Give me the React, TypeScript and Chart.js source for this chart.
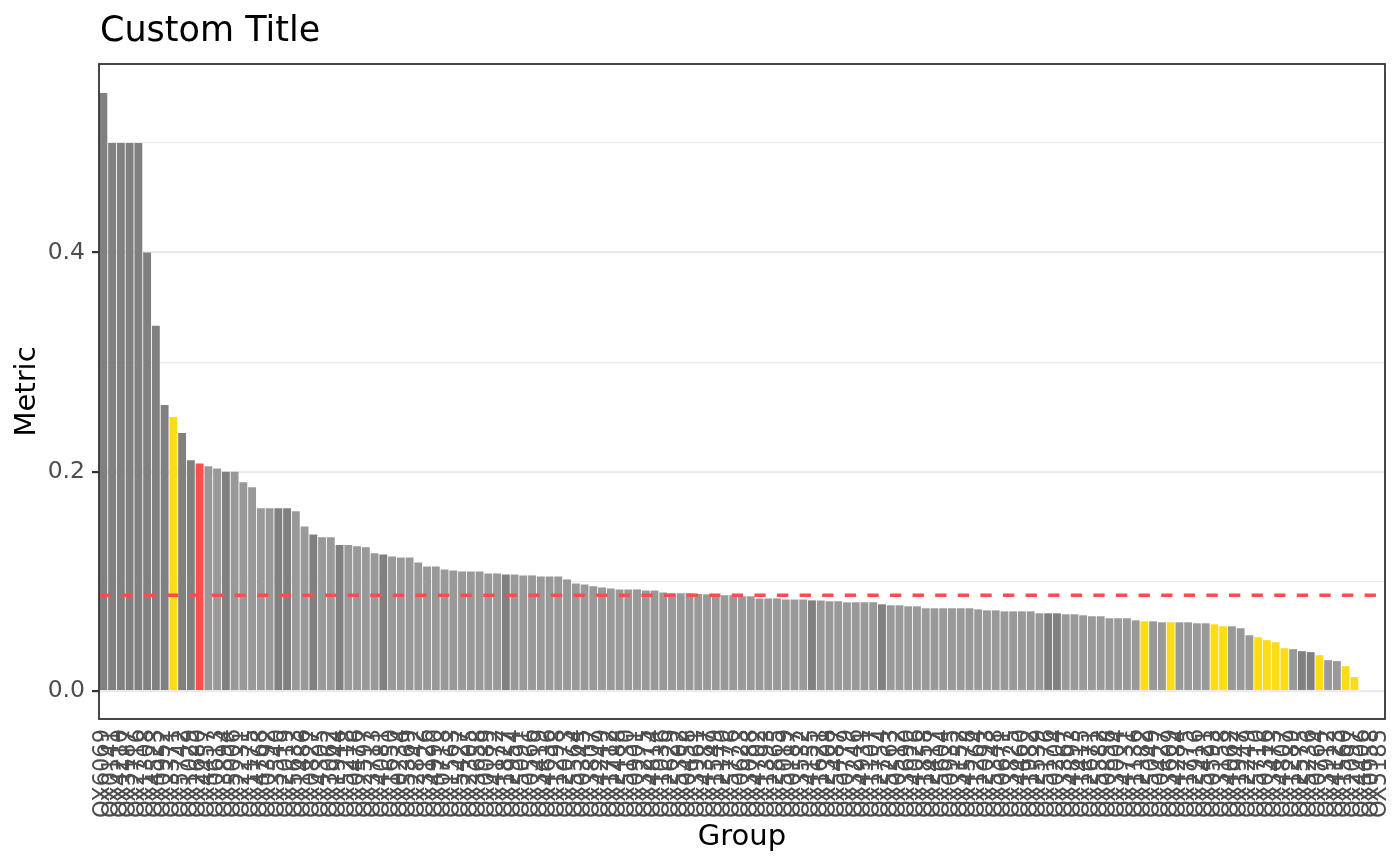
import { useEffect, useRef } from 'react';
import { Chart, registerables, type Plugin } from 'chart.js';

Chart.register(...registerables);

const FONT = 'DejaVu Sans';
Chart.defaults.font.family = FONT;

const chartTitle = 'Custom Title';
const xTitle = 'Group';
const yTitle = 'Metric';

const groups = [
  'OX6069', 'OX0141', 'OX4210', 'OX3187', 'OX2716', 'OX1308', 'OX4523', 'OX0952', 'OX3371', 'OX5742',
  'OX1029', 'OX2680', 'OX4457', 'OX0613', 'OX3894', 'OX5006', 'OX2231', 'OX1175', 'OX4768', 'OX0392',
  'OX3540', 'OX2019', 'OX5633', 'OX1486', 'OX0827', 'OX4305', 'OX3062', 'OX1944', 'OX5218', 'OX0476',
  'OX2597', 'OX3713', 'OX4081', 'OX1650', 'OX0234', 'OX5369', 'OX2842', 'OX3126', 'OX4990', 'OX0718',
  'OX1563', 'OX5427', 'OX2305', 'OX3658', 'OX0089', 'OX4172', 'OX1827', 'OX2954', 'OX5091', 'OX0566',
  'OX3419', 'OX4636', 'OX1298', 'OX2073', 'OX5564', 'OX0345', 'OX3807', 'OX4249', 'OX1712', 'OX2488',
  'OX5130', 'OX0901', 'OX3275', 'OX4814', 'OX1036', 'OX2629', 'OX5302', 'OX0458', 'OX3961', 'OX4387',
  'OX1549', 'OX2170', 'OX5776', 'OX0623', 'OX3088', 'OX4702', 'OX1393', 'OX2865', 'OX5019', 'OX0187',
  'OX3532', 'OX4155', 'OX1621', 'OX2308', 'OX5487', 'OX0779', 'OX3246', 'OX4931', 'OX1107', 'OX2754',
  'OX5263', 'OX0512', 'OX3690', 'OX4026', 'OX1858', 'OX2417', 'OX5604', 'OX0935', 'OX3152', 'OX4578',
  'OX1264', 'OX2093', 'OX5348', 'OX0671', 'OX3825', 'OX4460', 'OX1982', 'OX2539', 'OX5176', 'OX0204',
  'OX3367', 'OX4893', 'OX1415', 'OX2671', 'OX5582', 'OX0858', 'OX3004', 'OX4731', 'OX1136', 'OX2382',
  'OX5049', 'OX0427', 'OX3609', 'OX4284', 'OX1775', 'OX2916', 'OX5421', 'OX0593', 'OX3158', 'OX4062',
  'OX1947', 'OX2249', 'OX5710', 'OX0316', 'OX3473', 'OX4807', 'OX1289', 'OX2575', 'OX5236', 'OX0764',
  'OX3912', 'OX4123', 'OX1560', 'OX2097', 'OX4406', 'OX0958', 'OX5185',
];

const metric = [
  0.5455, 0.5, 0.5, 0.5, 0.5, 0.4, 0.3333, 0.2609, 0.25, 0.2353,
  0.2105, 0.2075, 0.2051, 0.2029, 0.2, 0.2, 0.1905, 0.186, 0.1667, 0.1667,
  0.1667, 0.1667, 0.1639, 0.15, 0.1429, 0.1404, 0.1404, 0.1333, 0.1333, 0.1321,
  0.1311, 0.1256, 0.1245, 0.1227, 0.1219, 0.1219, 0.1173, 0.1136, 0.1136, 0.1109,
  0.11, 0.1091, 0.1091, 0.1091, 0.1073, 0.1073, 0.1064, 0.1064, 0.1055, 0.1055,
  0.1045, 0.1045, 0.1045, 0.1018, 0.0982, 0.0973, 0.0955, 0.0945, 0.0936, 0.0927,
  0.0927, 0.0927, 0.0918, 0.0918, 0.09, 0.0891, 0.0891, 0.0891, 0.0885, 0.0882,
  0.0873, 0.0873, 0.0873, 0.0864, 0.0864, 0.0845, 0.0845, 0.0845, 0.0836, 0.0836,
  0.0836, 0.0827, 0.0827, 0.0818, 0.0818, 0.0809, 0.0809, 0.0809, 0.0809, 0.0791,
  0.0782, 0.0782, 0.0773, 0.0773, 0.0755, 0.0755, 0.0755, 0.0755, 0.0755, 0.0755,
  0.0745, 0.0736, 0.0736, 0.0727, 0.0727, 0.0727, 0.0727, 0.0709, 0.0709, 0.0709,
  0.07, 0.07, 0.0691, 0.0682, 0.0682, 0.0664, 0.0664, 0.0664, 0.0645, 0.0636,
  0.0636, 0.0627, 0.0627, 0.0627, 0.0627, 0.0618, 0.0618, 0.0609, 0.0591, 0.0591,
  0.0573, 0.0509, 0.0491, 0.0464, 0.0445, 0.0391, 0.0382, 0.0364, 0.0355, 0.0327,
  0.0282, 0.0273, 0.0227, 0.0127, 0, 0, 0,
];

// D = darker group, L = regular, Y = flagged, R = reference
const status = (
  'DDDDDDDDYD' + 'DRLLDLLLLL' + 'DDLLDLLDLL' + 'LLDLLLLLLL' + 'LLLLLLDLLL' +
  'LLLLLLLLLL' + 'LLLLLLLLLL' + 'LLLLLLLLLL' + 'LDLLLLLLLD' + 'LLLLLLLLLL' +
  'LLLLLLLLDD' + 'LLLLLLLLLY' + 'LLYLLLLYYL' + 'LLYYYYLDDY' + 'LLYYLLL'
).split('');

const cutoff = 0.0874;
const yMin = -0.0255;
const yMax = 0.572;
const majorTicks = [0, 0.2, 0.4];

const palette: Record<string, string> = {
  D: '#808080',
  L: '#999999',
  Y: '#FBDC16',
  R: '#FF4C4C',
};

const isMajor = (v: number) => majorTicks.some((t) => Math.abs(t - v) < 1e-6);

const panelPlugin: Plugin<'bar'> = {
  id: 'panel',
  afterDatasetsDraw(chart) {
    const { ctx, chartArea: a, scales } = chart;
    const y = scales.y.getPixelForValue(cutoff);
    ctx.save();
    ctx.strokeStyle = '#FF4C4C';
    ctx.lineWidth = 3.5;
    ctx.setLineDash([11.3, 11.3]);
    ctx.beginPath();
    ctx.moveTo(a.left, y);
    ctx.lineTo(a.right, y);
    ctx.stroke();
    ctx.setLineDash([]);
    ctx.strokeStyle = '#333333';
    ctx.lineWidth = 1.8;
    ctx.strokeRect(a.left, a.top, a.right - a.left, a.bottom - a.top);
    ctx.fillStyle = '#000000';
    ctx.font = `35px "${FONT}"`;
    ctx.textBaseline = 'alphabetic';
    ctx.textAlign = 'left';
    ctx.fillText(chartTitle, a.left + 1, 41);
    ctx.restore();
  },
};

export default function App() {
  const canvasRef = useRef<HTMLCanvasElement>(null);

  useEffect(() => {
    if (!canvasRef.current) return;
    const chart = new Chart(canvasRef.current, {
      type: 'bar',
      data: {
        labels: groups,
        datasets: [
          {
            data: metric,
            backgroundColor: status.map((s) => palette[s]),
            borderWidth: 0,
            categoryPercentage: 1,
            barPercentage: 0.9,
          },
        ],
      },
      options: {
        animation: false,
        responsive: false,
        layout: { padding: { top: 64, right: 15, left: 0, bottom: 0 } },
        plugins: {
          legend: { display: false },
          tooltip: { enabled: false },
        },
        scales: {
          x: {
            offset: true,
            grid: { display: false, drawTicks: false },
            border: { display: false },
            ticks: {
              autoSkip: false,
              minRotation: 90,
              maxRotation: 90,
              padding: 10,
              color: '#4D4D4D',
              font: { size: 22.5 },
            },
            title: {
              display: true,
              text: xTitle,
              color: '#000000',
              font: { size: 29 },
              padding: { top: 0, bottom: 11 },
            },
            afterFit: (s) => {
              s.height = 147;
              s.paddingLeft = 0;
              s.paddingRight = 0;
            },
          },
          y: {
            min: yMin,
            max: yMax,
            ticks: {
              stepSize: 0.1,
              includeBounds: false,
              padding: 7,
              color: '#4D4D4D',
              font: { size: 23.5 },
              callback: (v) => (isMajor(Number(v)) ? Number(v).toFixed(1) : ''),
            },
            grid: {
              color: '#EBEBEB',
              lineWidth: (c) => (c.tick && isMajor(c.tick.value) ? 2.2 : 1.2),
              tickColor: (c) => (c.tick && isMajor(c.tick.value) ? '#333333' : 'rgba(0,0,0,0)'),
              tickLength: 7,
              tickWidth: 2.2,
            },
            border: { display: false },
            title: {
              display: true,
              text: yTitle,
              color: '#000000',
              font: { size: 29 },
              padding: { top: 10, bottom: 0 },
            },
            afterFit: (s) => {
              s.width = 99;
              s.paddingTop = 0;
              s.paddingBottom = 0;
            },
          },
        },
      },
      plugins: [panelPlugin],
    });
    return () => chart.destroy();
  }, []);

  return (
    <div style={{ position: 'fixed', left: 0, top: 0, width: 1400, height: 866, background: '#ffffff' }}>
      <canvas ref={canvasRef} width={1400} height={866} style={{ display: 'block' }} />
    </div>
  );
}
